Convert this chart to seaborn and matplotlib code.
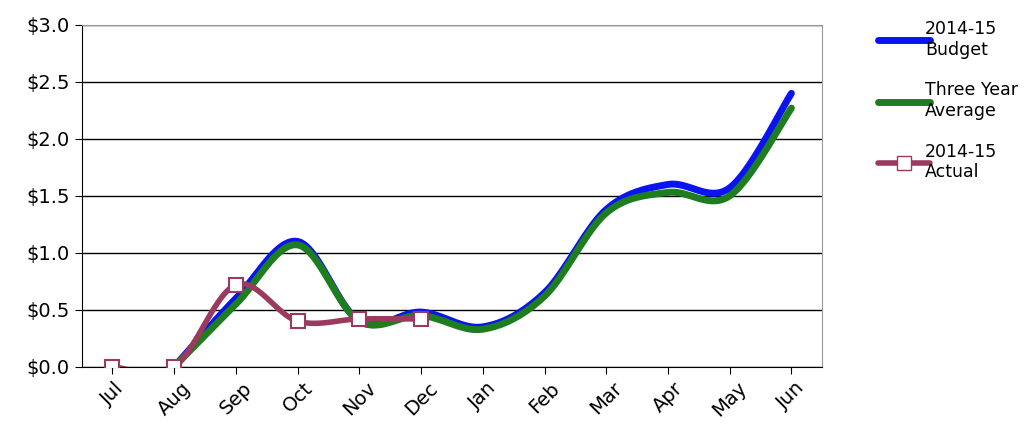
import matplotlib
matplotlib.use("Agg")
import matplotlib.pyplot as plt
import numpy as np
import seaborn as sns
from matplotlib.lines import Line2D

sns.set_style("white")
plt.rcParams['font.family'] = ['DejaVu Sans']

months = ["Jul", "Aug", "Sep", "Oct", "Nov", "Dec", "Jan", "Feb", "Mar", "Apr", "May", "Jun"]
budget = [None, 0.0, 0.60, 1.10, 0.40, 0.48, 0.35, 0.65, 1.38, 1.60, 1.57, 2.40]
average = [None, 0.0, 0.55, 1.07, 0.40, 0.45, 0.33, 0.62, 1.35, 1.53, 1.50, 2.27]
actual = [0.0, 0.0, 0.72, 0.40, 0.42, 0.42]


def smooth(vals, n=20):
    # Catmull-Rom curve through the points, like Excel's smoothed line
    pts = [(i, v) for i, v in enumerate(vals) if v is not None]
    x = np.array([p[0] for p in pts], float)
    y = np.array([p[1] for p in pts], float)
    xs, ys = [], []
    for k in range(len(x) - 1):
        p0 = k - 1 if k > 0 else k
        p3 = k + 2 if k + 2 < len(x) else k + 1
        t = np.linspace(0, 1, n, endpoint=False)
        for arr, out in ((x, xs), (y, ys)):
            a0, a1, a2, a3 = arr[p0], arr[k], arr[k + 1], arr[p3]
            out.extend(0.5 * (2 * a1 + (-a0 + a2) * t + (2 * a0 - 5 * a1 + 4 * a2 - a3) * t ** 2
                              + (-a0 + 3 * a1 - 3 * a2 + a3) * t ** 3))
    xs.append(x[-1]); ys.append(y[-1])
    return np.array(xs), np.array(ys)


fig = plt.figure(figsize=(10.33, 4.3), dpi=100)
ax = fig.add_axes([0.079, 0.147, 0.717, 0.795])

bx, by = smooth(budget)
gx, gy = smooth(average)
ax_, ay = smooth(actual)
sns.lineplot(x=bx, y=by, ax=ax, color="#0a14f0", lw=5, sort=False)
sns.lineplot(x=gx, y=gy, ax=ax, color="#1e7d1e", lw=5, sort=False)
sns.lineplot(x=ax_, y=ay, ax=ax, color="#9b3a5e", lw=4, sort=False)
ax.plot(range(len(actual)), actual, ls="none", marker="s", ms=10, mfc="white",
        mec="#9b3a5e", mew=1.5, zorder=5)

ax.set_xlim(-0.5, 11.5)
ax.set_ylim(0, 3.0)
ax.set_yticks(np.arange(0, 3.01, 0.5))
ax.set_yticklabels([f"${v:.1f}" for v in np.arange(0, 3.01, 0.5)], fontsize=14)
ax.set_xticks(range(12))
ax.set_xticklabels(months, rotation=45, fontsize=14)
ax.yaxis.grid(True, color="black", lw=1)
ax.tick_params(axis="both", length=5, direction="out", color="black", labelcolor="black",
               bottom=True, left=True)
for s in ax.spines.values():
    s.set_color("#999999")
ax.spines["bottom"].set_color("black")
ax.spines["left"].set_color("black")

handles = [Line2D([], [], color="#0a14f0", lw=5),
           Line2D([], [], color="#1e7d1e", lw=5),
           Line2D([], [], color="#9b3a5e", lw=4, marker="s", ms=10, mfc="white", mec="#9b3a5e")]
leg = fig.legend(handles, ["2014-15\nBudget", "Three Year\nAverage", "2014-15\nActual"],
                 loc="upper left", bbox_to_anchor=(0.835, 0.99), frameon=False, fontsize=12.5,
                 handlelength=3, handletextpad=-0.3, labelspacing=1.3)
for t in leg.get_texts():
    t.set_color("black")

fig.savefig("out.png", dpi=100)
